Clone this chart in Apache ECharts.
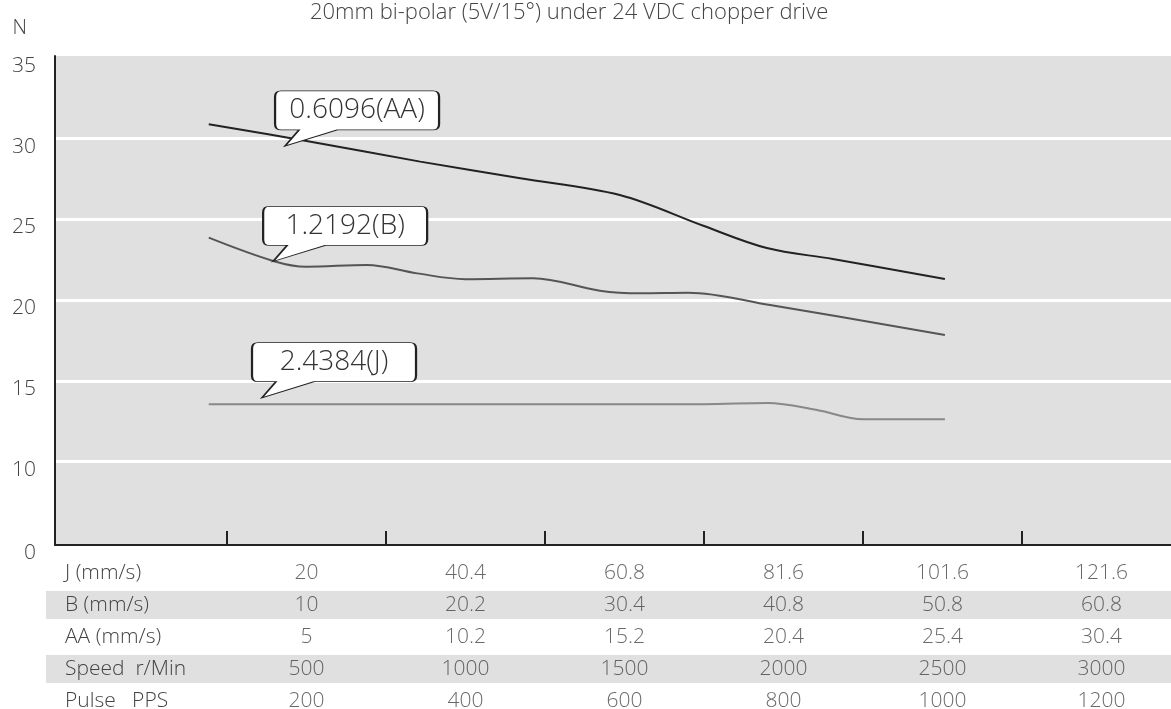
<!DOCTYPE html>
<html>
<head>
<meta charset="utf-8">
<title>20mm bi-polar pull-out force</title>
<script src="https://cdn.jsdelivr.net/npm/echarts@6/dist/echarts.min.js"></script>
<style>
  html, body { margin: 0; padding: 0; background: #ffffff; }
  #chart { width: 1171px; height: 709px; }
</style>
</head>
<body>
<div id="chart"></div>
<script>
// table columns (x position of every column = Pulse PPS)
const pulsePPS = [200, 400, 600, 800, 1000, 1200];
const speedRpm = [500, 1000, 1500, 2000, 2500, 3000];
const speedJ = [20, 40.4, 60.8, 81.6, 101.6, 121.6];
const speedB = [10, 20.2, 30.4, 40.8, 50.8, 60.8];
const speedAA = [5, 10.2, 15.2, 20.4, 25.4, 30.4];
const rowNames = ["J (mm/s)", "B (mm/s)", "AA (mm/s)", "Speed  r/Min", "Pulse   PPS"];
const rowValues = [speedJ, speedB, speedAA, speedRpm, pulsePPS];
// tick marks between the columns
const columnEdges = [100, 300, 500, 700, 900, 1100];
const yTicks = [10, 15, 20, 25, 30, 35];

// force curves, [pulse PPS, N]
const forceAA = [[77, 30.89], [200, 29.86], [343, 28.58], [469, 27.55], [594, 26.51], [700, 24.59],
  [779, 23.23], [862, 22.55], [1003, 21.31]];
const forceB = [[77, 23.87], [158, 22.43], [200, 22.07], [276, 22.18], [339, 21.66], [400, 21.3],
  [485, 21.36], [569, 20.59], [620, 20.43], [680, 20.46], [783, 19.7], [1003, 17.84]];
const forceJ = [[77, 13.55], [700, 13.56], [780, 13.64], [842, 13.2], [900, 12.62], [1003, 12.62]];

// where the callout tails point
const calloutAA = [173, 29.55];
const calloutB = [158, 22.4];
const calloutJ = [144, 13.96];

const yMin = 4.84;
const yMax = 35.12;
const xMin = -116.4;
const xMax = 1287.4;

const fontName = "'Open Sans', 'Noto Sans', sans-serif";
const textGray = "#444";

// rounded box with a tail at the bottom left, tip at (10,55)
const calloutPath = "path://M6,0 L158,0 Q164,0 164,6 L164,33 Q164,39 158,39 L62,39 L10,55 L24,39 L6,39 Q0,39 0,33 L0,6 Q0,0 6,0 Z";

function callout(anchor, text) {
  return {
    silent: true,
    symbol: calloutPath,
    symbolSize: [164, 55],
    symbolOffset: [72, -27.5],
    itemStyle: { color: "#ffffff", borderColor: "#222", borderWidth: 1.3 },
    label: {
      show: true,
      position: "inside",
      offset: [0, -8],
      color: "#333",
      fontFamily: fontName,
      fontWeight: 300,
      fontSize: 28,
      formatter: text
    },
    data: [{ coord: anchor }]
  };
}

function curve(name, data, color, anchor, text) {
  return {
    name: name,
    type: "line",
    xAxisIndex: 0,
    yAxisIndex: 0,
    data: data,
    smooth: 0.35,
    showSymbol: false,
    silent: true,
    lineStyle: { color: color, width: 2 },
    markPoint: callout(anchor, text)
  };
}

// table cells: [pulse, row, text]
const tableCells = [];
rowValues.forEach((vals, r) => {
  vals.forEach((v, i) => tableCells.push([pulsePPS[i], r, String(v)]));
});

const chart = echarts.init(document.getElementById("chart"));
const option = {
  animation: false,
  backgroundColor: "#ffffff",
  title: {
    text: "20mm bi-polar (5V/15°) under 24 VDC chopper drive",
    left: 310,
    top: 2,
    padding: 0,
    textStyle: { color: textGray, fontFamily: fontName, fontWeight: 300, fontSize: 22 }
  },
  grid: [
    { left: 55, right: 0, top: 56, bottom: 164, outerBoundsMode: "none", show: true, backgroundColor: "#e0e0e0", borderWidth: 0 },
    { left: 46, right: 0, top: 557, bottom: 0, outerBoundsMode: "none" }
  ],
  xAxis: [
    {
      type: "value",
      gridIndex: 0,
      min: xMin,
      max: xMax,
      axisLine: { show: true, onZero: false, lineStyle: { color: "#222", width: 2 } },
      axisTick: { show: true, inside: true, length: 14, customValues: columnEdges, lineStyle: { color: "#222", width: 2 } },
      axisLabel: { show: false },
      splitLine: { show: false }
    },
    {
      type: "value",
      gridIndex: 1,
      min: xMin - 9 * 200 / 159,
      max: xMax,
      axisLine: { show: false },
      axisTick: { show: false },
      axisLabel: { show: false },
      splitLine: { show: false }
    }
  ],
  yAxis: [
    {
      type: "value",
      gridIndex: 0,
      min: yMin,
      max: yMax,
      name: "N",
      nameLocation: "end",
      nameGap: 18,
      nameTextStyle: { color: textGray, fontFamily: fontName, fontWeight: 300, fontSize: 20, align: "right", padding: [0, 28, 0, 0] },
      axisLine: { show: true, onZero: false, lineStyle: { color: "#222", width: 2 } },
      axisTick: { show: false, customValues: yTicks.slice(0, 5) },
      axisLabel: {
        customValues: [yMin].concat(yTicks),
        formatter: v => (v < 5 ? "0" : String(v)),
        color: textGray,
        fontFamily: fontName,
        fontWeight: 300,
        fontSize: 21,
        margin: 19,
        verticalAlign: "top",
        lineHeight: 16
      },
      splitLine: { show: true, lineStyle: { color: "#ffffff", width: 3 } }
    },
    {
      // table rows: row r sits at value r, 32px per row
      type: "value",
      gridIndex: 1,
      inverse: true,
      min: -0.5,
      max: -0.5 + 152 / 32,
      axisLine: { show: false },
      axisTick: { show: false, customValues: [-0.5, 0.5625, 1.4375, 2.5625, 3.4375] },
      axisLabel: {
        customValues: [0, 1, 2, 3, 4],
        formatter: v => rowNames[v],
        inside: true,
        margin: 19,
        color: textGray,
        fontFamily: fontName,
        fontWeight: 300,
        fontSize: 21
      },
      splitLine: { show: false },
      splitArea: { show: true, areaStyle: { color: ["rgba(0,0,0,0)", "#e0e0e0"] } }
    }
  ],
  series: [
    curve("0.6096(AA)", forceAA, "#222222", calloutAA, "0.6096(AA)"),
    curve("1.2192(B)", forceB, "#555555", calloutB, "1.2192(B)"),
    curve("2.4384(J)", forceJ, "#888888", calloutJ, "2.4384(J)"),
    {
      type: "scatter",
      xAxisIndex: 1,
      yAxisIndex: 1,
      silent: true,
      symbolSize: 1,
      itemStyle: { color: "rgba(0,0,0,0)" },
      data: tableCells,
      label: {
        show: true,
        position: "inside",
        color: textGray,
        fontFamily: fontName,
        fontWeight: 300,
        fontSize: 21,
        formatter: p => p.value[2]
      }
    }
  ]
};
chart.setOption(option);
window.addEventListener("resize", () => chart.resize());
</script>
</body>
</html>
